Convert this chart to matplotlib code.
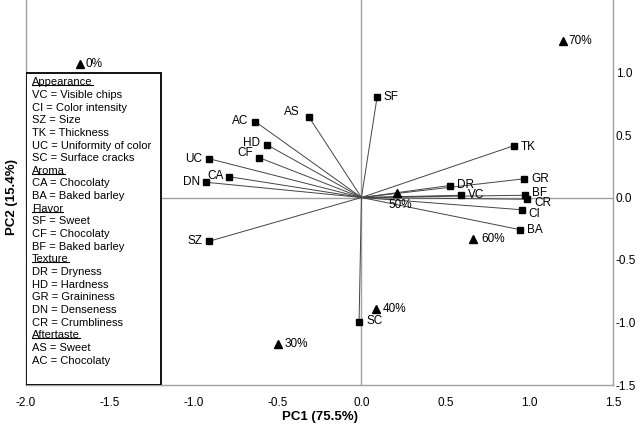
import matplotlib
matplotlib.use('Agg')
import matplotlib.pyplot as plt
from matplotlib.patches import Rectangle
from matplotlib.lines import Line2D

plt.rcParams['font.family'] = ['Liberation Sans', 'DejaVu Sans']

# ---- data ----
attributes = ['SF', 'AS', 'AC', 'HD', 'CF', 'UC', 'CA', 'DN', 'SZ', 'SC',
              'TK', 'GR', 'DR', 'VC', 'BF', 'CR', 'CI', 'BA']
pc1 = [0.094, -0.312, -0.634, -0.566, -0.612, -0.908, -0.787, -0.928, -0.908, -0.014,
       0.908, 0.972, 0.527, 0.594, 0.976, 0.988, 0.956, 0.948]
pc2 = [0.808, 0.642, 0.608, 0.424, 0.320, 0.310, 0.166, 0.122, -0.350, -0.992,
       0.414, 0.150, 0.096, 0.018, 0.018, -0.014, -0.098, -0.258]

samples = ['0%', '30%', '40%', '50%', '60%', '70%']
sample_pc1 = [-1.678, -0.497, 0.089, 0.213, 0.666, 1.203]
sample_pc2 = [1.070, -1.170, -0.890, 0.040, -0.330, 1.256]

xticks = [-2.0, -1.5, -1.0, -0.5, 0.0, 0.5, 1.0, 1.5]
yticks = [-1.5, -1.0, -0.5, 0.0, 0.5, 1.0]

legend_lines = [
    ('Appearance', True), ('VC = Visible chips', False), ('CI = Color intensity', False),
    ('SZ = Size', False), ('TK = Thickness', False), ('UC = Uniformity of color', False),
    ('SC = Surface cracks', False), ('Aroma', True), ('CA = Chocolaty', False),
    ('BA = Baked barley', False), ('Flavor', True), ('SF = Sweet', False),
    ('CF = Chocolaty', False), ('BF = Baked barley', False), ('Texture', True),
    ('DR = Dryness', False), ('HD = Hardness', False), ('GR = Graininess', False),
    ('DN = Denseness', False), ('CR = Crumbliness', False), ('Aftertaste', True),
    ('AS = Sweet', False), ('AC = Chocolaty', False),
]

# label offsets in pixels (dx, dy, ha)
attr_off = {
    'SF': (6, 0, 'left'), 'AS': (-10, 5, 'right'), 'AC': (-7, 0, 'right'),
    'HD': (-7, 2, 'right'), 'CF': (-6, 4, 'right'), 'UC': (-7, 0, 'right'),
    'CA': (-6, 1, 'right'), 'DN': (-6, 0, 'right'), 'SZ': (-7, 0, 'right'),
    'SC': (7, 0, 'left'), 'TK': (7, -1, 'left'), 'GR': (7, 0, 'left'),
    'DR': (7, 1, 'left'), 'VC': (7, 0, 'left'), 'BF': (7, 2, 'left'),
    'CR': (7, -4, 'left'), 'CI': (7, -4, 'left'), 'BA': (7, 0, 'left'),
}
samp_off = {
    '0%': (5, 0, 'left'), '30%': (6, 0, 'left'), '40%': (6, 0, 'left'),
    '50%': (3, -13, 'center'), '60%': (8, 0, 'left'), '70%': (5, 0, 'left'),
}

W, H = 640, 425
fig = plt.figure(figsize=(W / 100, H / 100), dpi=100)
ax = fig.add_axes([26 / W, 40 / H, 587 / W, 385 / H])
ax.set_xlim(-2.0, 1.5)
ax.set_ylim(-1.5, 1.58)

gray = '#a0a0a0'
ax.axhline(0, color=gray, lw=1.0, zorder=1)
ax.axvline(0, color=gray, lw=1.0, zorder=1)

for x, y in zip(pc1, pc2):
    ax.plot([0, x], [0, y], color='#444444', lw=0.7, zorder=2)
ax.plot(pc1, pc2, 's', color='black', ms=4.5, zorder=3, ls='none')
for name, x, y in zip(attributes, pc1, pc2):
    dx, dy, ha = attr_off[name]
    ax.annotate(name, (x, y), xytext=(dx, dy), textcoords='offset pixels',
                ha=ha, va='center', fontsize=8.5, color='black')

ax.plot(sample_pc1, sample_pc2, '^', color='black', ms=5.5, zorder=3, ls='none')
for name, x, y in zip(samples, sample_pc1, sample_pc2):
    dx, dy, ha = samp_off[name]
    ax.annotate(name, (x, y), xytext=(dx, dy), textcoords='offset pixels',
                ha=ha, va='center', fontsize=8.5, color='black')

# legend box
box_w = (160.7 - 26) / 587
box_top = (385 - 73) / 385
ax.add_patch(Rectangle((0, 0), box_w, box_top, transform=ax.transAxes,
                       fill=True, facecolor='white', edgecolor='black', lw=1.3, zorder=4))
headers = []
for i, (txt, header) in enumerate(legend_lines):
    py = 82.3 + 12.65 * i
    t = ax.text((32 - 26) / 587, 1 - py / 385, txt, transform=ax.transAxes,
                ha='left', va='center', fontsize=8, zorder=5)
    if header:
        headers.append(t)

# spines / ticks
ax.spines['top'].set_visible(False)
for sp in ['left', 'right', 'bottom']:
    ax.spines[sp].set_color(gray)
    ax.spines[sp].set_linewidth(1.0)
ax.set_xticks(xticks)
ax.set_xticklabels(['%.1f' % v for v in xticks])
ax.set_yticks(yticks)
ax.set_yticklabels(['%.1f' % v for v in yticks])
ax.yaxis.tick_right()
ax.tick_params(axis='x', length=0, pad=9, labelsize=8.5)
ax.tick_params(axis='y', length=0, pad=2, labelsize=8.5)

fig.text(319.5 / W, 1 - 417 / H, 'PC1 (75.5%)', ha='center', va='center',
         fontsize=9.5, fontweight='bold')
fig.text(12 / W, 1 - 197 / H, 'PC2 (15.4%)', ha='center', va='center',
         fontsize=9.5, fontweight='bold', rotation=90)

# underline the legend section headers
fig.canvas.draw()
renderer = fig.canvas.get_renderer()
inv = fig.transFigure.inverted()
for t in headers:
    bb = t.get_window_extent(renderer)
    (x0, y0), (x1, _) = inv.transform([(bb.x0, bb.y0 + 2.2), (bb.x1, bb.y0)])
    fig.add_artist(Line2D([x0, x1], [y0, y0], transform=fig.transFigure,
                          color='black', lw=0.8, zorder=6))

fig.savefig('out.png', dpi=100)
